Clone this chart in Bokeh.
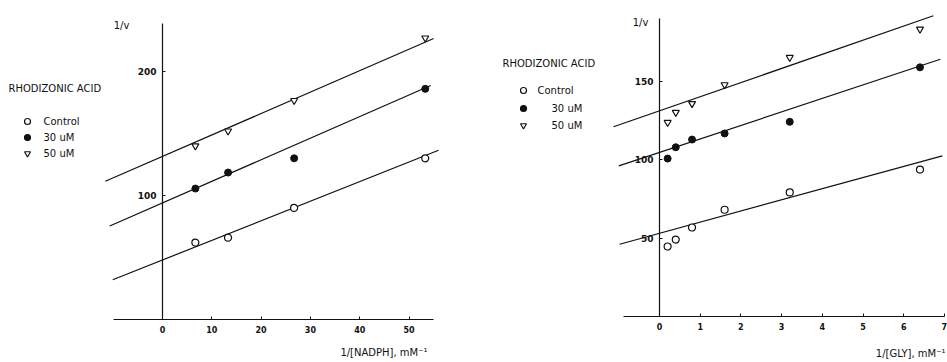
from bokeh.plotting import figure
from bokeh.layouts import row
from bokeh.models import FixedTicker
from bokeh.core.properties import value
from bokeh.embed import file_html
from bokeh.resources import INLINE

# ---------------- data: left panel (NADPH) ----------------
nadph_x = [6.67, 13.3, 26.7, 53.3]
nadph_control = [62, 66, 90, 130]
nadph_30uM = [105.6, 118.5, 130, 186]
nadph_50uM = [140, 152, 176.6, 227]
nadph_fit_intercept = [48, 94, 131.5]
nadph_fit_slope = [1.58, 1.74, 1.73]
nadph_fit_xstart = [-10.1, -10.7, -11.6]
nadph_fit_xend = [56, 54.4, 55]
nadph_xticks = [0, 10, 20, 30, 40, 50]
nadph_yticks = [100, 200]

# ---------------- data: right panel (GLY) ----------------
gly_x = [0.2, 0.4, 0.8, 1.6, 3.2, 6.4]
gly_control = [44.6, 49, 56.7, 68, 79, 93.6]
gly_30uM = [100.6, 107.8, 112.7, 116.6, 124, 158.7]
gly_50uM = [123.6, 130, 135.6, 147.6, 165, 183]
gly_fit_intercept = [53, 104.5, 131]
gly_fit_slope = [7.1, 8.6, 9.0]
gly_fit_xstart = [-0.98, -1.0, -1.13]
gly_fit_xend = [6.95, 6.9, 6.73]
gly_xticks = [0, 1, 2, 3, 4, 5, 6, 7]
gly_yticks = [50, 100, 150]

legend_title = "RHODIZONIC ACID"
legend_labels = ["Control", "30 uM", "50 uM"]

FONT = value("DejaVu Sans")
INK = "#111111"
H = 362
TOP = 0


class Panel:
    def __init__(self, width, page_left, x0_page, sx, y0_page, sy):
        self.w = width
        self.left = page_left
        self.x0 = x0_page - page_left
        self.sx = sx
        self.y0 = y0_page - TOP
        self.sy = sy

    def xr(self):
        return (-self.x0 / self.sx, (self.w - self.x0) / self.sx)

    def yr(self):
        return (-(H - self.y0) / self.sy, self.y0 / self.sy)

    def px(self, X, Y):
        return ((X - self.left - self.x0) / self.sx, (self.y0 - (Y - TOP)) / self.sy)


def make_panel(g, xs, ys_list, icpt, slope, xs0, xs1, xticks, yticks, xb, yb,
               xlabel, vlabel_pos, title_pos, leg_marker_x, leg_text_x, leg_y, xlabel_pos):
    p = figure(width=g.w, height=H, x_range=g.xr(), y_range=g.yr(),
               output_backend="svg", toolbar_location=None, title=None,
               min_border=0, min_border_left=0, min_border_right=0,
               min_border_top=0, min_border_bottom=0)
    p.outline_line_color = None
    p.grid.visible = False
    p.background_fill_color = "white"
    p.border_fill_color = "white"

    for ax, ticks, b, fs in ((p.xaxis, xticks, xb, "8px"), (p.yaxis, yticks, yb, "9px")):
        ax.fixed_location = 0
        ax.bounds = b
        ax.ticker = FixedTicker(ticks=ticks)
        ax.major_tick_in = 3
        ax.major_tick_out = 0
        ax.minor_tick_in = 0
        ax.minor_tick_out = 0
        ax.axis_line_color = INK
        ax.axis_line_width = 1.2
        ax.major_tick_line_color = INK
        ax.major_label_text_font = "DejaVu Sans"
        ax.major_label_text_font_size = fs
        ax.major_label_text_font_style = "bold"
        ax.major_label_text_color = INK
        ax.major_label_standoff = 6

    # fit lines
    for a, s, x0, x1 in zip(icpt, slope, xs0, xs1):
        p.line([x0, x1], [a + s * x0, a + s * x1], line_color=INK, line_width=1.2)

    # data points
    c, f, t = ys_list
    p.scatter(xs, c, marker="circle", size=7, fill_color="white", line_color=INK, line_width=1.2)
    p.scatter(xs, f, marker="circle", size=7, fill_color=INK, line_color=INK)
    p.scatter(xs, t, marker="inverted_triangle", size=7, fill_color="white", line_color=INK, line_width=1.2)

    # 1/v label
    vx, vy = g.px(*vlabel_pos)
    p.text([vx], [vy], text=["1/v"], text_font=FONT, text_font_size=value("10px"),
           text_align="center", text_baseline="middle", text_color=INK)

    # x axis label
    lx, ly = g.px(*xlabel_pos)
    p.text([lx], [ly], text=[xlabel], text_font=FONT, text_font_size=value("10px"),
           text_align="right", text_baseline="middle", text_color=INK)

    # legend
    tx, ty = g.px(*title_pos)
    p.text([tx], [ty], text=[legend_title], text_font=FONT, text_font_size=value("10px"),
           text_align="left", text_baseline="middle", text_color=INK)
    markers = [("circle", "white"), ("circle", INK), ("inverted_triangle", "white")]
    for (m, fc), lab, yy, txx in zip(markers, legend_labels, leg_y, leg_text_x):
        mx, my = g.px(leg_marker_x, yy)
        p.scatter([mx], [my], marker=m, size=6, fill_color=fc, line_color=INK, line_width=1.2)
        qx, qy = g.px(txx, yy)
        p.text([qx], [qy], text=[lab], text_font=FONT, text_font_size=value("10px"),
               text_align="left", text_baseline="middle", text_color=INK)
    return p


gL = Panel(470, 0, 162, 4.93, 319, 1.24)
gR = Panel(477, 470, 659, 40.7, 316, 1.57)

left = make_panel(gL, nadph_x, (nadph_control, nadph_30uM, nadph_50uM),
                  nadph_fit_intercept, nadph_fit_slope, nadph_fit_xstart, nadph_fit_xend,
                  nadph_xticks, nadph_yticks, (-10, 55), (0, 239),
                  "1/[NADPH], mM\u207b\u00b9", (121, 25), (8, 88),
                  27, [43, 43, 43], [121, 137, 153], (427, 352))

right = make_panel(gR, gly_x, (gly_control, gly_30uM, gly_50uM),
                   gly_fit_intercept, gly_fit_slope, gly_fit_xstart, gly_fit_xend,
                   gly_xticks, gly_yticks, (-0.88, 7), (0, 190),
                   "1/[GLY], mM\u207b\u00b9", (640, 22), (502, 63),
                   523, [537, 551, 551], [90, 108, 125], (945, 353))

layout = row(left, right)
open("out.html", "w").write(file_html(layout, INLINE))
